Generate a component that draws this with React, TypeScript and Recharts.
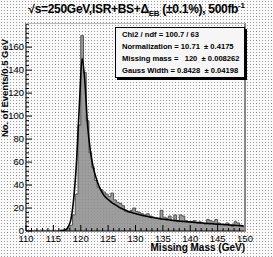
import React from "react";
import { ComposedChart, Area, Line, XAxis, YAxis } from "recharts";

// histogram bin low edges (0.5 GeV bins, 110 -> 150)
const binEdges = [
  110, 110.5, 111, 111.5, 112, 112.5, 113, 113.5, 114, 114.5,
  115, 115.5, 116, 116.5, 117, 117.5, 118, 118.5, 119, 119.5,
  120, 120.5, 121, 121.5, 122, 122.5, 123, 123.5, 124, 124.5,
  125, 125.5, 126, 126.5, 127, 127.5, 128, 128.5, 129, 129.5,
  130, 130.5, 131, 131.5, 132, 132.5, 133, 133.5, 134, 134.5,
  135, 135.5, 136, 136.5, 137, 137.5, 138, 138.5, 139, 139.5,
  140, 140.5, 141, 141.5, 142, 142.5, 143, 143.5, 144, 144.5,
  145, 145.5, 146, 146.5, 147, 147.5, 148, 148.5, 149, 149.5,
];

// events per bin
const counts = [
  0, 0, 0, 0, 0, 0, 0, 0, 0, 0,
  0, 0, 0, 0, 0, 2, 5, 14, 32, 92,
  170, 138, 96, 68, 55, 44, 38, 36, 34, 32,
  30, 33, 27, 25, 24, 22, 17, 16, 18, 20,
  17, 16, 15, 14, 15, 13, 12, 11, 11, 18,
  12, 11, 13, 9, 14, 8, 14, 13, 9, 8,
  8, 9, 7, 8, 7, 6, 10, 9, 8, 10,
  7, 6, 6, 7, 5, 4, 8, 7, 5, 4,
];

// fitted function evaluated at bin centres (null = outside fit range)
const fitValues = [
  null, null, null, null, null, null, null, null, null, null,
  null, null, 0.3, 0.5, 1, 4, 11, 30, 62, 110,
  150, 130, 92, 70, 56, 47, 40, 35, 31, 28.5,
  26.5, 24.5, 23, 21.5, 20, 19, 18, 17, 16.2, 15.5,
  14.8, 14.2, 13.6, 13.1, 12.6, 12.1, 11.7, 11.3, 10.9, 10.5,
  10.2, 9.9, 9.6, 9.3, 9.0, 8.8, 8.5, 8.3, 8.1, 7.9,
  7.7, 7.5, 7.3, 7.1, 6.9, 6.7, 6.5, 6.4, 6.2, 6.0,
  5.9, 5.7, 5.5, 5.4, 5.2, 5.1, 4.9, 4.8, 4.6, 4.5,
];

const xMajorTicks = [110, 115, 120, 125, 130, 135, 140, 145, 150];
const yMajorTicks = [0, 20, 40, 60, 80, 100, 120, 140, 160];

const statsLines = [
  "Chi2 / ndf = 100.7 / 63",
  "Normalization = 10.71  \u00b1 0.4175",
  "Missing mass =   120  \u00b1 0.008262",
  "Gauss Width = 0.8428  \u00b1 0.04198",
];

const BIN = 0.5;
const rows: { x: number; h?: number | null; f?: number | null }[] = [];
binEdges.forEach((e, i) => {
  rows.push({ x: e, h: counts[i], f: null });
  rows.push({ x: e + BIN / 2, h: null, f: fitValues[i] });
});
rows.push({ x: binEdges[binEdges.length - 1] + BIN, h: counts[counts.length - 1], f: null });

// minor + major tick positions
const xTicks: number[] = [];
for (let v = 110; v <= 150; v += 1) xTicks.push(v);
const yTicks: number[] = [];
for (let v = 0; v <= 180; v += 4) yTicks.push(v);

const FONT = "'Liberation Sans', Arial, sans-serif";

const XTick = (props: any) => {
  const { x, y, payload } = props;
  const major = xMajorTicks.includes(payload.value);
  return (
    <g>
      <line x1={x} x2={x} y1={y} y2={y - (major ? 6 : 3)} stroke="#000" strokeWidth={1} />
      {major && (
        <text x={x} y={y + 10.5} textAnchor="middle" fontSize={9.5} fontFamily={FONT} fill="#000">
          {payload.value}
        </text>
      )}
    </g>
  );
};

const YTick = (props: any) => {
  const { x, y, payload } = props;
  const major = yMajorTicks.includes(payload.value);
  return (
    <g>
      <line x1={x} x2={x + (major ? 6 : 3)} y1={y} y2={y} stroke="#000" strokeWidth={1} />
      {major && (
        <text x={x - 2} y={y + 3} textAnchor="end" fontSize={9.5} fontFamily={FONT} fill="#000">
          {payload.value}
        </text>
      )}
    </g>
  );
};

export default function App() {
  return (
    <div
      style={{
        position: "absolute",
        left: 0,
        top: 0,
        width: 273,
        height: 257,
        backgroundColor: "#fafafa",
        backgroundImage: "radial-gradient(#9a9a9a 0.7px, transparent 0.8px)",
        backgroundSize: "3px 3px",
        fontFamily: FONT,
        overflow: "hidden",
      }}
    >
      <div
        style={{
          position: "absolute",
          left: 0,
          width: 273,
          top: 1,
          textAlign: "center",
          fontSize: 12,
          fontWeight: "bold",
          letterSpacing: -0.3,
          whiteSpace: "nowrap",
        }}
      >
        {"\u221as=250GeV,ISR+BS+\u0394"}
        <sub style={{ fontSize: 8 }}>EB</sub>
        {" (\u00b10.1%), 500fb"}
        <sup style={{ fontSize: 8 }}>-1</sup>
      </div>

      <ComposedChart
        width={273}
        height={257}
        data={rows}
        margin={{ top: 23, right: 28, bottom: 0, left: 0 }}
      >
        <XAxis
          dataKey="x"
          type="number"
          domain={[110, 150]}
          ticks={xTicks}
          interval={0}
          tickSize={0}
          tickMargin={0}
          tickLine={false}
          tick={<XTick />}
          height={26}
          axisLine={{ stroke: "#000" }}
          allowDataOverflow
        />
        <YAxis
          type="number"
          domain={[0, 181]}
          ticks={yTicks}
          interval={0}
          tickSize={0}
          tickMargin={0}
          tickLine={false}
          tick={<YTick />}
          width={26}
          axisLine={{ stroke: "#000" }}
          allowDataOverflow
        />
        <Area
          type="stepAfter"
          dataKey="h"
          stroke="#555"
          strokeWidth={1}
          fill="#8c8c8c"
          fillOpacity={0.85}
          connectNulls
          dot={false}
          activeDot={false}
          isAnimationActive={false}
        />
        <Line
          type="monotone"
          dataKey="f"
          stroke="#000"
          strokeWidth={1.6}
          connectNulls
          dot={false}
          activeDot={false}
          isAnimationActive={false}
        />
      </ComposedChart>

      {/* frame right / top */}
      <div
        style={{
          position: "absolute",
          left: 26,
          top: 23,
          width: 218,
          height: 208,
          borderRight: "2px solid #888",
          borderTop: "1px solid #bbb",
          pointerEvents: "none",
        }}
      />

      {/* stats box */}
      <div
        style={{
          position: "absolute",
          left: 115,
          top: 27,
          width: 122,
          height: 48,
          background: "#f6f6f6",
          border: "1px solid #000",
          boxShadow: "2px 2px 0 #000",
          fontSize: 7.6,
          fontWeight: "bold",
          lineHeight: "12px",
          paddingLeft: 6,
          paddingTop: 1,
          whiteSpace: "pre",
          boxSizing: "content-box",
        }}
      >
        {statsLines.map((s) => (
          <div key={s}>{s}</div>
        ))}
      </div>

      {/* y axis title */}
      <div style={{ position: "absolute", left: 0, top: 88, width: 0, height: 0 }}>
        <div
          style={{
            position: "absolute",
            transform: "translate(-50%, -50%) rotate(-90deg)",
            left: 5,
            top: 0,
            fontSize: 9.5,
            fontWeight: "bold",
            lineHeight: "10px",
            whiteSpace: "nowrap",
          }}
        >
          No. of Events/0.5 GeV
        </div>
      </div>

      <div
        style={{
          position: "absolute",
          right: 28,
          top: 242,
          fontSize: 10,
          lineHeight: "11px",
          fontWeight: "bold",
          whiteSpace: "nowrap",
        }}
      >
        Missing Mass (GeV)
      </div>
    </div>
  );
}
